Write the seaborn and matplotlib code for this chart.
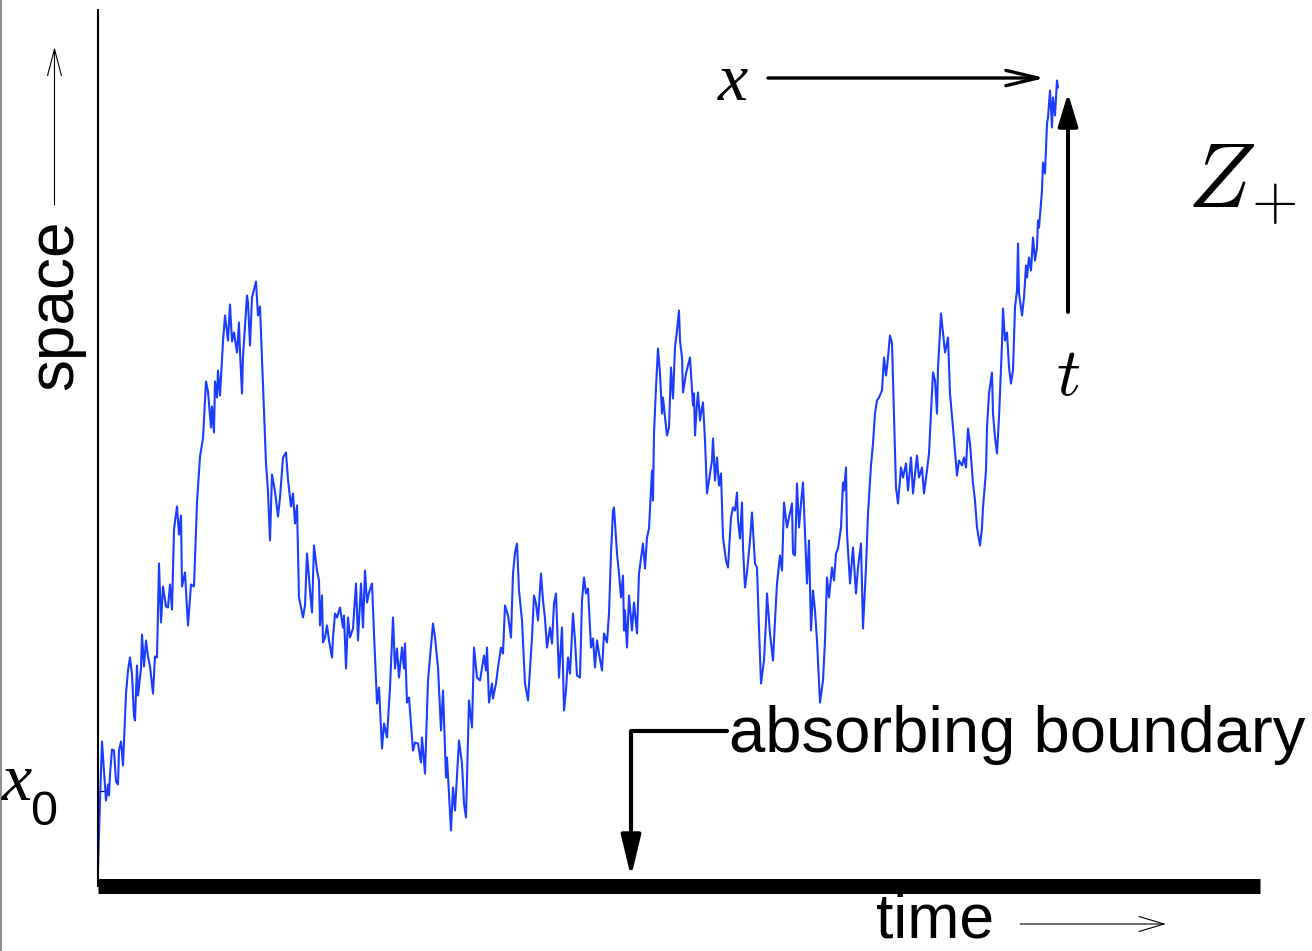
import matplotlib
matplotlib.use("Agg")
import matplotlib.pyplot as plt
from matplotlib.lines import Line2D
import numpy as np
import pandas as pd
import seaborn as sns

time_a = [0, 2, 4, 8, 10, 11, 12, 14, 16, 18,
          20, 21, 23, 25, 28, 30, 32, 34, 36, 37,
          39, 40, 43, 44, 46, 48, 50, 52, 55, 57,
          59, 61, 63, 65, 68, 70, 72, 74, 76, 79,
          81, 83, 84, 87, 90, 93, 96, 99, 102, 105,
          108, 110, 113, 114, 116, 117, 119, 120, 122, 125,
          127, 130, 132, 134, 136, 139, 141, 142, 144, 145,
          149, 150, 152, 154, 158, 160, 162, 165, 168, 170,
          172, 174, 177, 180, 182, 185, 188, 190, 193, 195,
          197, 199]
space_a = [17, 85, 144, 85, 101, 90, 111, 136, 135, 104,
           101, 135, 144, 120, 192, 215, 228, 211, 169, 165,
           220, 190, 217, 251, 219, 245, 229, 219, 192, 229,
           228, 322, 263, 299, 279, 278, 301, 276, 356, 379,
           351, 370, 299, 313, 260, 301, 299, 383, 429, 447,
           504, 494, 458, 479, 453, 504, 488, 515, 490, 544,
           570, 545, 581, 544, 553, 533, 563, 533, 492, 529,
           590, 583, 540, 588, 604, 570, 579, 501, 422, 394,
           345, 411, 394, 369, 388, 428, 433, 406, 379, 392,
           362, 380]

time_b = [201, 205, 207, 209, 212, 214, 216, 219, 221, 222,
          224, 225, 227, 229, 231, 234, 235, 237, 239, 242,
          245, 246, 248, 250, 252, 255, 258, 260, 263, 265,
          267, 269, 271, 274, 276, 279, 281, 284, 286, 289,
          292, 295, 297, 299, 301, 304, 306, 307, 309, 311,
          315, 317, 320, 323, 324, 327, 330, 335, 337, 340,
          343, 345, 348, 349, 353, 355, 357, 361, 364, 366,
          368, 371, 374, 376, 379, 382, 386, 388, 389, 391,
          394, 395, 398, 400, 403, 405, 407, 410, 413, 415,
          417, 419]
space_b = [288, 268, 280, 332, 295, 273, 340, 315, 305, 260,
           290, 243, 248, 260, 245, 228, 248, 272, 268, 278,
           258, 270, 217, 268, 248, 257, 302, 245, 302, 258,
           315, 283, 293, 302, 252, 182, 198, 137, 162, 148,
           198, 268, 217, 237, 208, 238, 217, 242, 183, 188,
           135, 143, 142, 123, 148, 112, 205, 262, 248, 218,
           155, 195, 108, 128, 55, 98, 75, 145, 122, 82,
           68, 185, 158, 238, 208, 205, 230, 215, 238, 183,
           202, 187, 202, 218, 238, 232, 280, 270, 248, 312,
           333, 342]

time_c = [421, 424, 427, 430, 434, 436, 438, 440, 443, 445,
          447, 449, 452, 454, 456, 458, 461, 464, 466, 468,
          470, 472, 475, 477, 479, 482, 484, 486, 488, 490,
          493, 495, 497, 499, 501, 504, 506, 509, 511, 513,
          515, 516, 519, 521, 523, 525, 526, 527, 529, 531,
          534, 536, 539, 541, 545, 547, 549, 551, 554, 555,
          556, 558, 560, 562, 564, 565, 567, 569, 571, 573,
          575, 577, 579, 581, 582, 584, 585, 588, 590, 592]
space_c = [295, 265, 202, 185, 248, 290, 282, 265, 312, 285,
           267, 238, 258, 242, 282, 292, 208, 258, 175, 195,
           228, 212, 272, 245, 210, 208, 285, 308, 292, 297,
           238, 247, 218, 245, 232, 215, 252, 243, 272, 332,
           375, 378, 332, 312, 288, 310, 255, 275, 238, 290,
           255, 283, 252, 312, 342, 317, 348, 357, 415, 385,
           452, 498, 537, 512, 472, 488, 468, 450, 458, 518,
           487, 538, 555, 575, 545, 528, 493, 512, 520, 528]

time_d = [595, 596, 597, 599, 600, 602, 604, 605, 607, 609,
          611, 614, 615, 617, 619, 621, 623, 625, 628, 630,
          633, 635, 637, 639, 640, 642, 644, 645, 647, 649,
          652, 654, 657, 659, 661, 663, 666, 668, 669, 672,
          675, 677, 679, 682, 684, 686, 689, 691, 694, 695,
          697, 699, 701, 703, 705, 707, 709, 711, 713, 715,
          717, 719, 722, 725, 727, 729, 731, 734, 736, 738,
          740, 743, 745, 746, 748, 749, 752, 755, 758, 760,
          763, 765, 768, 770, 773, 775, 777, 779, 781, 784,
          786, 788, 789, 792, 794, 796, 798, 800]
space_d = [480, 492, 450, 482, 493, 465, 478, 483, 445, 392,
           405, 425, 447, 405, 428, 400, 412, 348, 325, 318,
           368, 378, 375, 393, 365, 347, 383, 338, 298, 313,
           345, 373, 322, 318, 257, 202, 225, 265, 292, 252,
           225, 265, 302, 330, 315, 383, 358, 368, 382, 332,
           330, 402, 358, 382, 403, 352, 302, 345, 255, 295,
           275, 245, 183, 205, 245, 308, 288, 318, 305, 332,
           337, 358, 403, 395, 418, 352, 302, 338, 292, 318,
           342, 257, 318, 372, 420, 442, 472, 485, 488, 495,
           528, 510, 518, 550, 542, 470, 398, 382]

time_e = [803, 805, 808, 810, 813, 815, 819, 821, 824, 826,
          829, 831, 834, 835, 837, 839, 840, 843, 845, 847,
          849, 850, 852, 855, 859, 861, 864, 866, 868, 870,
          872, 875, 877, 879, 882, 884, 885, 888, 889, 891,
          894, 895, 897, 899, 901, 904, 905, 907, 909, 911,
          913, 915, 917, 919, 920, 921, 924, 926, 928, 929,
          931, 933, 935, 937, 939, 940, 941, 943, 944, 945,
          947, 949, 950, 952, 954, 955, 957, 959, 960]
space_e = [418, 408, 422, 395, 428, 392, 430, 408, 418, 392,
           415, 432, 492, 513, 505, 472, 518, 572, 552, 533,
           542, 548, 492, 458, 410, 425, 420, 428, 418, 457,
           442, 402, 385, 358, 340, 358, 378, 415, 458, 492,
           513, 472, 448, 432, 468, 542, 577, 545, 553, 518,
           502, 515, 578, 595, 642, 592, 570, 588, 620, 608,
           628, 615, 648, 625, 638, 665, 658, 682, 695, 723,
           712, 762, 768, 795, 758, 788, 770, 805, 798]

x0_level = 95          # starting level x0 (space units)
time_max = 1162        # end of the time axis
space_max = 875.5      # top of the space axis

# ---------------- figure ----------------
sns.set_theme(style="white")
plt.rcParams["font.family"] = ["Liberation Sans", "DejaVu Sans"]
plt.rcParams["text.color"] = "black"

W, H = 1312, 951
fig = plt.figure(figsize=(W / 100, H / 100), dpi=100)
fig.patch.set_facecolor("white")

def fx(x):
    return x / W

def fy(y):
    return (H - y) / H

def fp(x, y):
    return (x, H - y)

ax = fig.add_axes([fx(98), fy(885.5), (1260 - 98) / W, (885.5 - 10) / H])
ax.set_facecolor("white")

df = pd.DataFrame({
    "time": time_a + time_b + time_c + time_d + time_e,
    "space": space_a + space_b + space_c + space_d + space_e,
})
sns.lineplot(data=df, x="time", y="space", ax=ax, color="#1a3dff",
             lw=1.5, estimator=None, sort=False)

ax.set_xlim(0, time_max)
ax.set_ylim(0, space_max)
ax.set_xlabel("")
ax.set_ylabel("")
ax.set_xticks([])
ax.set_yticks([x0_level])
ax.tick_params(axis="y", direction="in", length=8, width=0.9, color="black",
               left=True, labelleft=False)
for s in ("top", "right"):
    ax.spines[s].set_visible(False)
ax.spines["left"].set_color("black")
ax.spines["left"].set_linewidth(1.5)
ax.spines["bottom"].set_color("black")
ax.spines["bottom"].set_linewidth(10.8)
ax.spines["bottom"].set_capstyle("butt")

# gray left border
fig.add_artist(Line2D([fx(1), fx(1)], [0, 1], color="#909090", lw=1.5,
                      transform=fig.transFigure))

# ---------------- texts ----------------
serif_it = dict(family=["Liberation Serif", "DejaVu Serif"], style="italic")

fig.text(fx(72), fy(390), "space", rotation=90, rotation_mode="anchor",
         ha="left", va="baseline", fontsize=46, color="black")
fig.text(fx(876), fy(937), "time", ha="left", va="baseline", fontsize=45,
         color="black")
fig.text(fx(729), fy(752), "absorbing boundary", ha="left", va="baseline",
         fontsize=47, color="black")

fig.text(fx(733), fy(100), "x", ha="center", va="baseline", fontsize=49,
         color="black", **serif_it)
fig.text(fx(1068), fy(395), r"$t$", ha="center", va="baseline", fontsize=48,
         color="black", math_fontfamily="cm")
fig.text(fx(1187), fy(207), r"$Z$", ha="left", va="baseline", fontsize=66,
         color="black", math_fontfamily="cm")
fig.text(fx(1274), fy(203), r"$+$", ha="center", va="center", fontsize=43,
         color="black", math_fontfamily="cm")
fig.text(fx(2), fy(800), "x", ha="left", va="baseline", fontsize=49,
         color="black", **serif_it)
fig.text(fx(30), fy(825), "0", ha="left", va="baseline", fontsize=35,
         color="black")

# ---------------- arrows ----------------
def arrow(tip, tail, style, lw, conn="arc3"):
    ax.annotate("", xy=fp(*tip), xycoords="figure pixels",
                xytext=fp(*tail), textcoords="figure pixels",
                annotation_clip=False,
                arrowprops=dict(arrowstyle=style, lw=lw, color="black",
                                mutation_scale=1, shrinkA=0, shrinkB=0,
                                connectionstyle=conn))

arrow((1045, 78), (768, 78), "->,head_length=23,head_width=5.5", 2.4)
arrow((1068, 93), (1068, 312), "-|>,head_length=20,head_width=6", 2.9)
arrow((631, 877), (727, 731), "-|>,head_length=25,head_width=6", 3.0,
      conn="angle,angleA=0,angleB=90,rad=0")
arrow((54.5, 47), (54.5, 205), "->,head_length=19,head_width=5", 0.8)
arrow((1166, 924), (1020, 924), "->,head_length=18,head_width=5.4", 0.8)

fig.savefig("out.png", dpi=100, facecolor="white")
